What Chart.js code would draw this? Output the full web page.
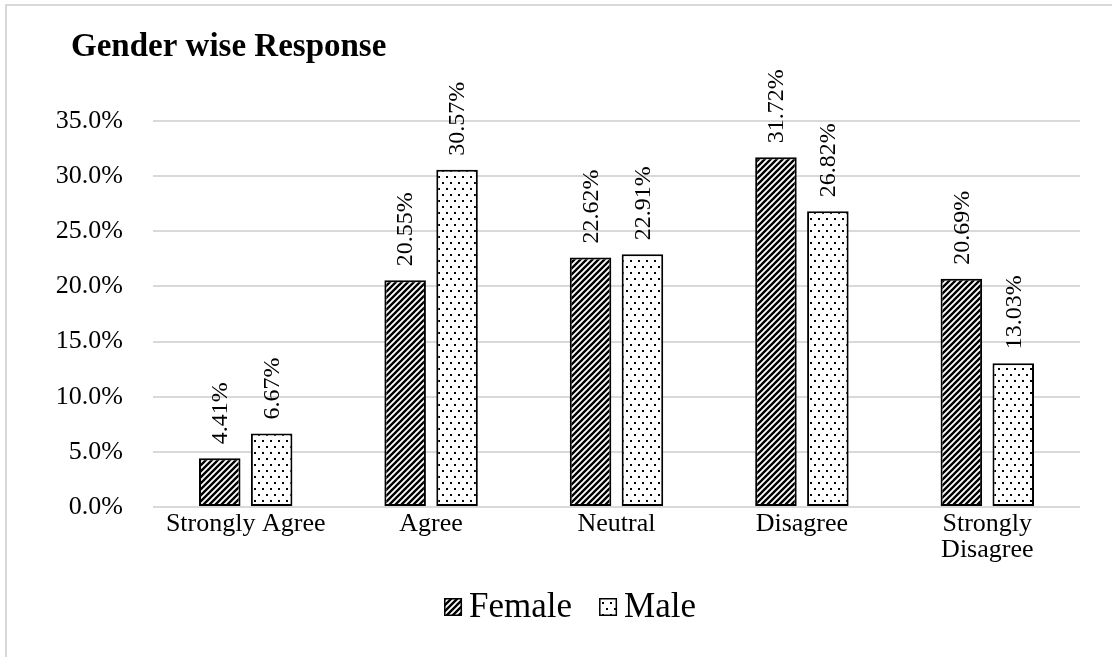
<!DOCTYPE html>
<html>
<head>
<meta charset="utf-8">
<script src="https://cdn.jsdelivr.net/npm/chart.js@4.4.0/dist/chart.umd.min.js"></script>
<style>
  html, body { margin: 0; padding: 0; background: #fff; }
  #wrap { position: relative; width: 1112px; height: 657px; }
</style>
</head>
<body>
<div id="wrap"><canvas id="c" width="1112" height="657"></canvas></div>
<script>
// ---- data ----
const chartTitle = 'Gender wise Response';
const categories = ['Strongly Agree', 'Agree', 'Neutral', 'Disagree', ['Strongly', 'Disagree']];
const seriesNames = ['Female', 'Male'];
const femaleValues = [4.41, 20.55, 22.62, 31.72, 20.69];
const maleValues = [6.67, 30.57, 22.91, 26.82, 13.03];
const yMin = 0, yMax = 35, yStep = 5;

const SERIF = '"Liberation Serif", "Times New Roman", serif';

// ---- fill patterns ----
function stripePattern(ctx) {
  const t = document.createElement('canvas');
  t.width = 6; t.height = 6;
  const g = t.getContext('2d');
  g.fillStyle = '#fff'; g.fillRect(0, 0, 6, 6);
  g.strokeStyle = '#000'; g.lineWidth = 2.4;
  g.beginPath();
  g.moveTo(-1, 7); g.lineTo(7, -1);
  g.moveTo(-1, 1); g.lineTo(1, -1);
  g.moveTo(5, 7); g.lineTo(7, 5);
  g.stroke();
  return ctx.createPattern(t, 'repeat');
}
function dotPattern(ctx) {
  const t = document.createElement('canvas');
  t.width = 8; t.height = 12;
  const g = t.getContext('2d');
  g.fillStyle = '#fff'; g.fillRect(0, 0, 8, 12);
  g.fillStyle = '#000';
  g.fillRect(2, 2, 2, 2);
  g.fillRect(6, 8, 2, 2);
  return ctx.createPattern(t, 'repeat');
}

const canvas = document.getElementById('c');
const ctx = canvas.getContext('2d');
const femaleFill = stripePattern(ctx);
const maleFill = dotPattern(ctx);

// ---- plugins ----
const frame = {
  id: 'frame',
  beforeDraw(chart) {
    const c = chart.ctx;
    c.save();
    c.fillStyle = '#fff';
    c.fillRect(0, 0, chart.width, chart.height);
    c.strokeStyle = '#d9d9d9';
    c.lineWidth = 2;
    c.beginPath();
    c.moveTo(6, chart.height); c.lineTo(6, 5); c.lineTo(chart.width, 5);
    c.stroke();
    c.restore();
  }
};

const titleText = {
  id: 'titleText',
  afterDraw(chart) {
    const c = chart.ctx;
    c.save();
    c.font = 'bold 33px ' + SERIF;
    c.fillStyle = '#000';
    c.textAlign = 'left';
    c.textBaseline = 'alphabetic';
    c.fillText(chartTitle, 71, 56);
    c.restore();
  }
};

const barValueLabels = {
  id: 'barValueLabels',
  afterDatasetsDraw(chart) {
    const c = chart.ctx;
    c.save();
    c.font = '24px ' + SERIF;
    c.fillStyle = '#000';
    c.textAlign = 'left';
    c.textBaseline = 'middle';
    chart.data.datasets.forEach((ds, di) => {
      chart.getDatasetMeta(di).data.forEach((bar, i) => {
        c.save();
        c.translate(bar.x + 1, bar.y - 14);
        c.rotate(-Math.PI / 2);
        c.fillText(ds.data[i].toFixed(2) + '%', 0, 0);
        c.restore();
      });
    });
    c.restore();
  }
};

const bottomLegend = {
  id: 'bottomLegend',
  afterDraw(chart) {
    const c = chart.ctx;
    const box = 18, textGap = 7, itemGap = 27, cx = 570, cy = 607;
    c.save();
    c.font = '35px ' + SERIF;
    const items = chart.data.datasets.map(ds => ({
      text: ds.label, fill: ds.backgroundColor, w: c.measureText(ds.label).width
    }));
    const total = items.reduce((s, it) => s + box + textGap + it.w, 0) + itemGap * (items.length - 1);
    let x = cx - total / 2;
    items.forEach(it => {
      c.fillStyle = it.fill;
      c.fillRect(x, cy - box / 2, box, box);
      c.strokeStyle = '#000';
      c.lineWidth = 1.5;
      c.strokeRect(x + 0.75, cy - box / 2 + 0.75, box - 1.5, box - 1.5);
      c.fillStyle = '#000';
      c.textAlign = 'left';
      c.textBaseline = 'middle';
      c.fillText(it.text, x + box + textGap, cy + 1);
      x += box + textGap + it.w + itemGap;
    });
    c.restore();
  }
};

// ---- chart ----
new Chart(ctx, {
  type: 'bar',
  data: {
    labels: categories,
    datasets: [
      { label: seriesNames[0], data: femaleValues, backgroundColor: femaleFill,
        borderColor: '#000', borderWidth: 2, borderSkipped: false },
      { label: seriesNames[1], data: maleValues, backgroundColor: maleFill,
        borderColor: '#000', borderWidth: 2, borderSkipped: false }
    ]
  },
  options: {
    responsive: false,
    animation: false,
    devicePixelRatio: 1,
    categoryPercentage: 0.56,
    barPercentage: 0.8,
    layout: { padding: { left: 0, right: 32, top: 121, bottom: 50 } },
    plugins: {
      legend: { display: false },
      title: { display: false },
      tooltip: { enabled: false }
    },
    scales: {
      x: {
        grid: { display: false, drawTicks: false },
        border: { display: false },
        ticks: {
          font: { family: SERIF, size: 26, lineHeight: 1.0 }, color: '#000',
          padding: 4, maxRotation: 0, autoSkip: false
        },
        afterFit(s) { s.height = 100; }
      },
      y: {
        min: yMin, max: yMax,
        grid: { color: '#d9d9d9', lineWidth: 2, drawTicks: false },
        border: { display: false },
        ticks: {
          stepSize: yStep,
          font: { family: SERIF, size: 26 }, color: '#000', padding: 30,
          callback: v => v.toFixed(1) + '%'
        },
        afterFit(s) { s.width = 153; }
      }
    }
  },
  plugins: [frame, titleText, barValueLabels, bottomLegend]
});
</script>
</body>
</html>
